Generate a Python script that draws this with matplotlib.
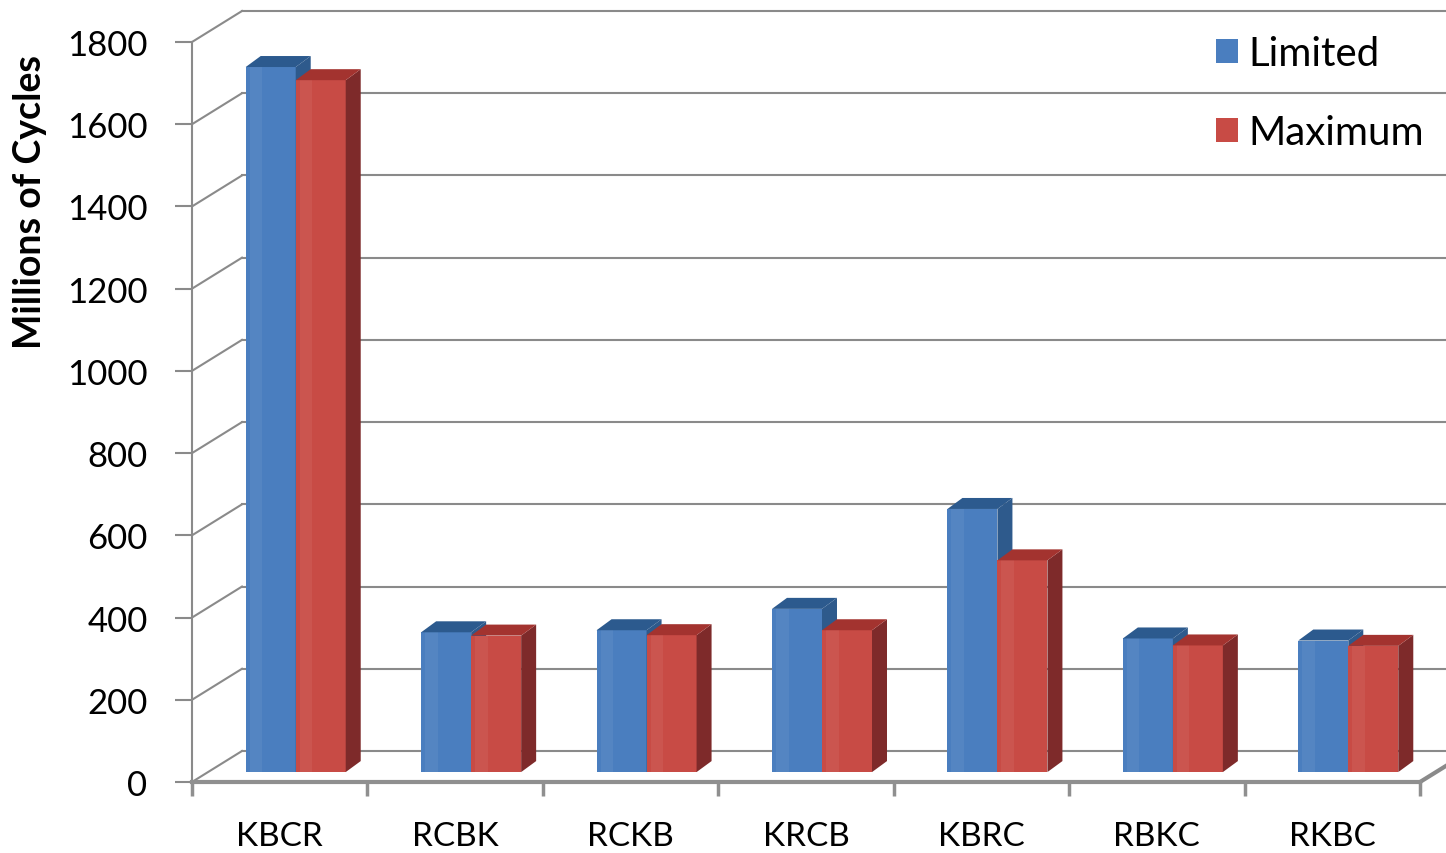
import numpy as np
import matplotlib.pyplot as plt
from matplotlib.patches import Polygon, Patch

plt.rcParams['font.family'] = ['Lato', 'DejaVu Sans']

categories = ["KBCR", "RCBK", "RCKB", "KRCB", "KBRC", "RBKC", "RKBC"]
limited = [1715, 340, 345, 397, 640, 325, 320]
maximum = [1683, 332, 333, 345, 515, 308, 307]
series_names = ["Limited", "Maximum"]
y_ticks = list(range(0, 1801, 200))

# colours: front face, side face, top face
blue = ("#4a7ebf", "#2e5a8c", "#2c5a8e")
red = ("#c84b45", "#7e2a2a", "#a3332f")
grid_col = "#8a8a8a"

W, H = 1446, 854
fig = plt.figure(figsize=(W / 100, H / 100), dpi=100)

# front plane of the 3d box, in pixels
left_px, right_px, bottom_px, top_px = 192, 1420, 783, 43
ax = fig.add_axes([left_px / W, 1 - bottom_px / H,
                   (right_px - left_px) / W, (bottom_px - top_px) / H])
n = len(categories)
ax.set_xlim(-0.5, n - 0.5)
ax.set_ylim(0, 1800)

px_x = n / (right_px - left_px)
px_y = 1800 / (bottom_px - top_px)
depth_x, depth_y = 50 * px_x, 31 * px_y

# back wall gridlines + diagonals to the front axis
for v in y_ticks:
    ax.plot([-0.5, -0.5 + depth_x], [v, v + depth_y], color=grid_col, lw=1.5, clip_on=False, zorder=1)
    ax.plot([-0.5 + depth_x, n + 1], [v + depth_y, v + depth_y], color=grid_col, lw=1.5, clip_on=False, zorder=1)
ax.plot([n - 0.5, n - 0.5 + depth_x], [0, depth_y], color=grid_col, lw=3, clip_on=False, zorder=1)

# bars, drawn as front face + side + top
bar_w = 50 * px_x
shift_x, shift_y = 0.32 * depth_x, 0.32 * depth_y
cap_x, cap_y = 15 * px_x, 11 * px_y
x = np.arange(n) + shift_x

for i, (vals, cols) in enumerate([(limited, blue), (maximum, red)]):
    xs = x - bar_w if i == 0 else x
    z = 3 + 2 * i
    ax.bar(xs, vals, width=bar_w, bottom=shift_y, align="edge", color=cols[0],
           zorder=z, clip_on=False, linewidth=0)
    for x0, v in zip(xs, vals):
        x1 = x0 + bar_w
        top = shift_y + v
        side = [(x1, shift_y), (x1 + cap_x, shift_y + cap_y), (x1 + cap_x, top + cap_y), (x1, top)]
        cap = [(x0, top), (x0 + cap_x, top + cap_y), (x1 + cap_x, top + cap_y), (x1, top)]
        ax.add_patch(Polygon(side, closed=True, facecolor=cols[1], lw=0, zorder=z + 0.5, clip_on=False))
        ax.add_patch(Polygon(cap, closed=True, facecolor=cols[2], lw=0, zorder=z + 0.6, clip_on=False))
        # light strip on the left of the front face
        ax.bar(x0 + bar_w * 0.08, v, width=bar_w * 0.25, bottom=shift_y, align="edge",
               color="white", alpha=0.06, zorder=z + 0.1, clip_on=False, linewidth=0)

# axes
for s in ["top", "right"]:
    ax.spines[s].set_visible(False)
ax.spines["left"].set_color(grid_col)
ax.spines["left"].set_linewidth(1.5)
ax.spines["bottom"].set_color("#8f8f8f")
ax.spines["bottom"].set_linewidth(3)

ax.set_yticks(y_ticks)
ax.set_yticklabels([str(v) for v in y_ticks])
ax.tick_params(axis="y", direction="out", length=12, width=1.5, color=grid_col,
               labelsize=25, pad=20)
ax.set_xticks(np.arange(n))
ax.set_xticklabels(categories)
ax.tick_params(axis="x", which="major", length=0, labelsize=24, pad=28)
ax.set_xticks(np.arange(n + 1) - 0.5, minor=True)
ax.tick_params(axis="x", which="minor", direction="out", length=10, width=2.5, color="#8f8f8f")

fig.text(30 / W, 1 - 202 / H, "Millions of Cycles", rotation=90, fontsize=27,
         fontweight="bold", ha="center", va="center")

handles = [Patch(facecolor=blue[0]), Patch(facecolor=red[0])]
fig.legend(handles, series_names, loc="upper left", bbox_to_anchor=(1216 / W, 1 - 36 / H),
           bbox_transform=fig.transFigure, frameon=False, fontsize=29, handlelength=0.55,
           handleheight=0.55, handletextpad=0.25, labelspacing=1.05, borderpad=0, borderaxespad=0)

fig.savefig("out.png", dpi=100)
